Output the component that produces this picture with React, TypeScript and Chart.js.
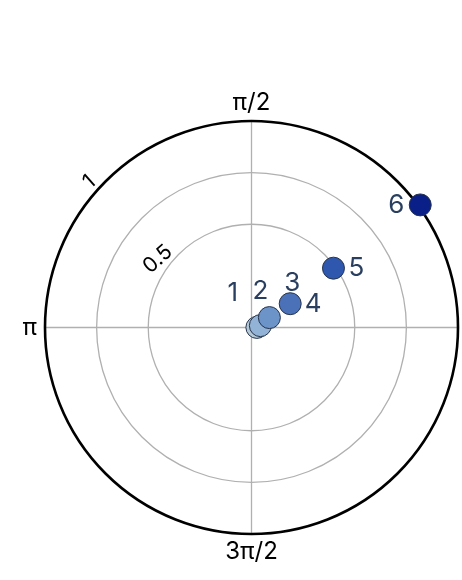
import React, { useEffect, useRef } from 'react';
import { Chart, registerables } from 'chart.js';

Chart.register(...registerables);

// point data (radius on a 0..1 scale, angle in degrees)
const pointLabels = ['1', '2', '3', '4', '5', '6'];
const radiusValues = [0.026, 0.044, 0.099, 0.22, 0.49, 1.01];
const thetaDegrees = [1, 12, 29, 31.6, 35.9, 36];
const markerColors = ['#b4c8d6', '#93b3d6', '#6c94c9', '#4b71b9', '#2e57ad', '#0a1f88'];
const textPositions = ['top left', 'top center', 'top right', 'right', 'right', 'left'];

// axes
const radialGridValues = [0.5, 0.75];
const radialTickValues = [0.5, 1];
const radialTickLabels = ['0.5', '1'];
const angularGridValues = [0, 90, 180, 270];
const angularTickValues = [90, 180, 270];
const angularTickLabels = ['π/2', 'π', '3π/2'];
const radialAxisAngle = 131.5;

const FONT = 'Inter, "Liberation Sans", Arial, sans-serif';
const rad = (d: number) => (d * Math.PI) / 180;

const polarFrame = {
  id: 'polarFrame',
  beforeDatasetsDraw(chart: any) {
    const { ctx } = chart;
    const xs = chart.scales.x;
    const ys = chart.scales.y;
    const cx = xs.getPixelForValue(0);
    const cy = ys.getPixelForValue(0);
    const rPix = (r: number) => xs.getPixelForValue(r) - cx;
    const R = rPix(1);

    ctx.save();
    ctx.strokeStyle = '#b0b0b0';
    ctx.lineWidth = 1.3;
    radialGridValues.forEach((r) => {
      ctx.beginPath();
      ctx.arc(cx, cy, rPix(r), 0, Math.PI * 2);
      ctx.stroke();
    });
    angularGridValues.forEach((a) => {
      ctx.beginPath();
      ctx.moveTo(cx, cy);
      ctx.lineTo(cx + R * Math.cos(rad(a)), cy - R * Math.sin(rad(a)));
      ctx.stroke();
    });

    // outer edge
    ctx.strokeStyle = '#000';
    ctx.lineWidth = 2.6;
    ctx.beginPath();
    ctx.arc(cx, cy, R, 0, Math.PI * 2);
    ctx.stroke();

    // angular tick labels
    ctx.fillStyle = '#000';
    ctx.font = `24px ${FONT}`;
    ctx.textAlign = 'center';
    ctx.textBaseline = 'middle';
    angularTickValues.forEach((a, i) => {
      const text = angularTickLabels[i];
      const w = ctx.measureText(text).width;
      const c = Math.cos(rad(a));
      const s = Math.sin(rad(a));
      const off = 8 + Math.abs(c) * (w / 2) + Math.abs(s) * 10;
      ctx.fillText(text, cx + (R + off) * c, cy - (R + off) * s);
    });

    // radial tick labels, along a tilted axis
    const ux = Math.cos(rad(radialAxisAngle));
    const uy = -Math.sin(rad(radialAxisAngle));
    const px = uy;
    const py = -ux;
    ctx.font = `21px ${FONT}`;
    radialTickValues.forEach((v, i) => {
      const d = rPix(v) + 10;
      const x = cx + d * ux + 25 * px;
      const y = cy + d * uy + 25 * py;
      ctx.save();
      ctx.translate(x, y);
      ctx.rotate(-rad(radialAxisAngle - 90));
      ctx.fillText(radialTickLabels[i], 0, 0);
      ctx.restore();
    });
    ctx.restore();
  },
  afterDatasetsDraw(chart: any) {
    const { ctx } = chart;
    const meta = chart.getDatasetMeta(0);
    ctx.save();
    ctx.fillStyle = '#2a3f5f';
    ctx.font = `26px ${FONT}`;
    ctx.textAlign = 'center';
    ctx.textBaseline = 'middle';
    meta.data.forEach((el: any, i: number) => {
      const pos = textPositions[i];
      let dx = 0;
      let dy = 0;
      if (pos.includes('left')) dx = -24;
      if (pos.includes('right')) dx = 23;
      if (pos.includes('top')) dy = -34;
      ctx.fillText(pointLabels[i], el.x + dx, el.y + dy);
    });
    ctx.restore();
  },
};

const App: React.FC = () => {
  const chartRef = useRef<HTMLCanvasElement>(null);
  const chartInstance = useRef<Chart | null>(null);

  useEffect(() => {
    if (!chartRef.current) return;
    if (chartInstance.current) chartInstance.current.destroy();

    const points = radiusValues.map((r, i) => ({
      x: r * Math.cos(rad(thetaDegrees[i])),
      y: r * Math.sin(rad(thetaDegrees[i])),
    }));

    chartInstance.current = new Chart(chartRef.current, {
      type: 'scatter',
      data: {
        datasets: [
          {
            data: points,
            backgroundColor: markerColors,
            borderColor: '#26344d',
            borderWidth: 1,
            pointRadius: 11,
            clip: false as any,
          },
        ],
      },
      options: {
        animation: false,
        responsive: true,
        maintainAspectRatio: false,
        layout: { autoPadding: false, padding: { left: 45, right: 4, top: 121, bottom: 46 } },
        plugins: { legend: { display: false }, tooltip: { enabled: false } },
        scales: {
          x: { display: false, min: -1, max: 1 },
          y: { display: false, min: -1, max: 1 },
        },
      },
      plugins: [polarFrame],
    });

    return () => {
      if (chartInstance.current) {
        chartInstance.current.destroy();
        chartInstance.current = null;
      }
    };
  }, []);

  return (
    <div style={{ position: 'absolute', left: 0, top: 0, width: '462px', height: '580px', background: '#fff' }}>
      <canvas ref={chartRef}></canvas>
    </div>
  );
};

export default App;
